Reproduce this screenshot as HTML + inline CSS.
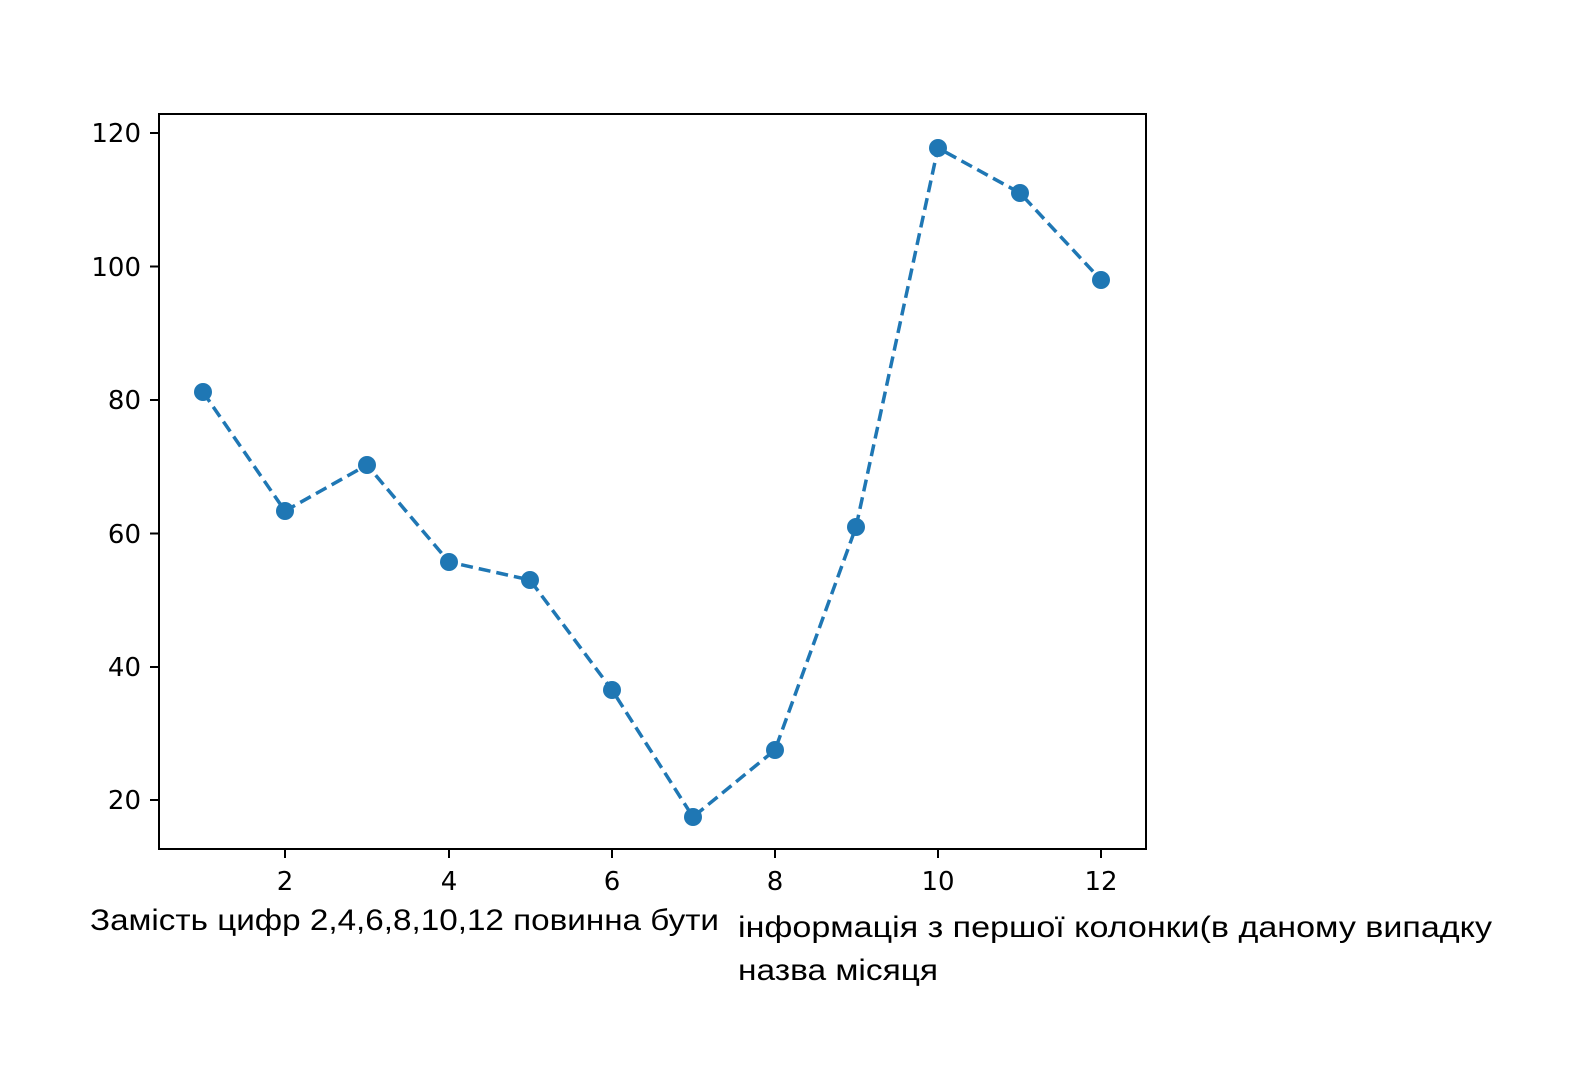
<!DOCTYPE html>
<html><head><meta charset="utf-8"><style>body{margin:0;background:#fff}svg{display:block}</style></head>
<body>
<svg width="1576" height="1086" xmlns="http://www.w3.org/2000/svg" font-family="'DejaVu Sans', sans-serif">
<rect width="1576" height="1086" fill="#fff"/>
<g stroke="#000" stroke-width="2">
<line x1="150" y1="133" x2="159" y2="133"/>
<line x1="150" y1="266.5" x2="159" y2="266.5"/>
<line x1="150" y1="400" x2="159" y2="400"/>
<line x1="150" y1="533.5" x2="159" y2="533.5"/>
<line x1="150" y1="667" x2="159" y2="667"/>
<line x1="150" y1="800" x2="159" y2="800"/>
<line x1="285" y1="849" x2="285" y2="858"/>
<line x1="449" y1="849" x2="449" y2="858"/>
<line x1="612" y1="849" x2="612" y2="858"/>
<line x1="775" y1="849" x2="775" y2="858"/>
<line x1="938" y1="849" x2="938" y2="858"/>
<line x1="1101" y1="849" x2="1101" y2="858"/>
</g>
<g font-size="26" fill="#000" text-anchor="end">
<text x="141" y="142">120</text>
<text x="141" y="276">100</text>
<text x="141" y="409">80</text>
<text x="141" y="543">60</text>
<text x="141" y="676">40</text>
<text x="141" y="809">20</text>
</g>
<g font-size="26" fill="#000" text-anchor="middle">
<text x="285" y="890">2</text>
<text x="449" y="890">4</text>
<text x="612" y="890">6</text>
<text x="775" y="890">8</text>
<text x="938" y="890">10</text>
<text x="1101" y="890">12</text>
</g>
<polyline fill="none" stroke="#1f77b4" stroke-width="3.5" stroke-dasharray="12,6"
points="203,392 285,511 367,465 449,562 530,580 612,690 693,817 775,750 856,527 938,148 1020,193 1101,280"/>
<g fill="#1f77b4">
<circle cx="203" cy="392" r="9"/><circle cx="285" cy="511" r="9"/><circle cx="367" cy="465" r="9"/>
<circle cx="449" cy="562" r="9"/><circle cx="530" cy="580" r="9"/><circle cx="612" cy="690" r="9"/>
<circle cx="693" cy="817" r="9"/><circle cx="775" cy="750" r="9"/><circle cx="856" cy="527" r="9"/>
<circle cx="938" cy="148" r="9"/><circle cx="1020" cy="193" r="9"/><circle cx="1101" cy="280" r="9"/>
</g>
<rect x="159" y="114" width="987" height="735" fill="none" stroke="#000" stroke-width="2"/>
<g font-size="30" fill="#000" font-family="'Liberation Sans', sans-serif">
<text x="90" y="930" textLength="629" lengthAdjust="spacingAndGlyphs">Замість цифр 2,4,6,8,10,12 повинна бути</text>
<text x="738" y="937" textLength="754" lengthAdjust="spacingAndGlyphs">інформація з першої колонки(в даному випадку</text>
<text x="738" y="980" textLength="200" lengthAdjust="spacingAndGlyphs">назва місяця</text>
</g>
</svg>
</body></html>
